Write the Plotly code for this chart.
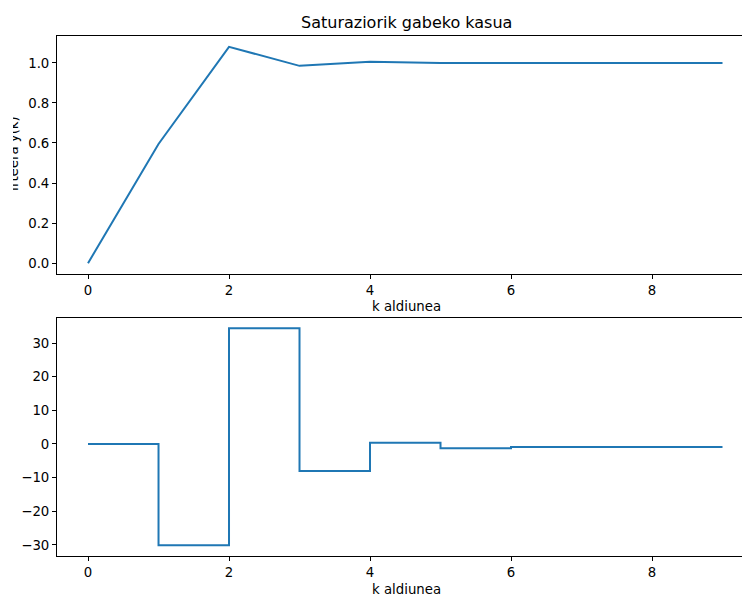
import plotly.graph_objects as go

# ---- data ----
k = list(range(10))
y_out = [0.0, 0.595, 1.08, 0.985, 1.005, 0.999, 0.999, 0.999, 0.999, 0.999]
u_ctrl = [0.0, -30.1, 34.4, -8.0, 0.4, -1.3, -0.9, -0.9, -0.9, -0.9]
x_ticks = [0, 2, 4, 6, 8]
y1_ticks = [0.0, 0.2, 0.4, 0.6, 0.8, 1.0]
y2_ticks = [-30, -20, -10, 0, 10, 20, 30]

title_text = "Saturaziorik gabeko kasua"
xlabel = "k aldiunea"
ylabel1 = "Irteera y(k)"
ylabel2 = "Kontrol ekintza u(k)"

W, H = 742, 594
ML, MR, MT, MB = 57, 0, 36, 38
PW, PH = W - ML - MR, H - MT - MB


def px_x(px):
    return (px - ML) / PW


def px_y(py):
    return (H - MB - py) / PH


FONT = "DejaVu Sans"
BLUE = "#1f77b4"
FS = 13.3

fig = go.Figure()
fig.add_trace(go.Scatter(x=k, y=y_out, mode="lines", line=dict(color=BLUE, width=2),
                         xaxis="x", yaxis="y", showlegend=False))
fig.add_trace(go.Scatter(x=k, y=u_ctrl, mode="lines", line=dict(color=BLUE, width=2, shape="hv"),
                         xaxis="x2", yaxis="y2", showlegend=False))

axis_common = dict(showline=True, linecolor="black", linewidth=1, ticks="outside",
                   ticklen=4, tickwidth=1, tickcolor="black", showgrid=False, zeroline=False,
                   tickfont=dict(family=FONT, size=FS, color="black"))

xr = [-0.44, (W - 88) / 70.5]
fig.update_layout(
    width=W, height=H,
    margin=dict(l=ML, r=MR, t=MT, b=MB),
    paper_bgcolor="white", plot_bgcolor="white",
    xaxis=dict(domain=[0, 1], range=xr, anchor="y", tickvals=x_ticks, mirror=True, **axis_common),
    yaxis=dict(domain=[px_y(274), 1], range=[-0.054, 1.134], anchor="x", tickvals=y1_ticks,
               tickformat=".1f", **axis_common),
    xaxis2=dict(domain=[0, 1], range=xr, anchor="y2", tickvals=x_ticks, mirror=True, **axis_common),
    yaxis2=dict(domain=[0, px_y(317.5)], range=[-33.3, 37.6], anchor="x2", tickvals=y2_ticks,
                **axis_common),
)

ann = []
ann.append(dict(text=title_text, x=px_x(406), y=px_y(22), xref="paper", yref="paper",
                xanchor="center", yanchor="middle", showarrow=False,
                font=dict(family=FONT, size=16, color="black")))
ann.append(dict(text=xlabel, x=px_x(406), y=px_y(307), xref="paper", yref="paper",
                xanchor="center", yanchor="middle", showarrow=False,
                font=dict(family=FONT, size=FS, color="black")))
ann.append(dict(text=xlabel, x=px_x(406), y=px_y(589), xref="paper", yref="paper",
                xanchor="center", yanchor="middle", showarrow=False,
                font=dict(family=FONT, size=FS, color="black")))
ann.append(dict(text=ylabel1, x=px_x(13), y=px_y(154), xref="paper", yref="paper",
                xanchor="center", yanchor="middle", showarrow=False, textangle=-90,
                font=dict(family=FONT, size=FS, color="black")))
ann.append(dict(text=ylabel2, x=px_x(6), y=px_y(436), xref="paper", yref="paper",
                xanchor="center", yanchor="middle", showarrow=False, textangle=-90,
                font=dict(family=FONT, size=FS, color="black")))
# white band hiding the part of the y labels cut off in the reference
ann.append(dict(text=" ", x=px_x(0), y=px_y(0), xref="paper", yref="paper",
                xanchor="left", yanchor="top", showarrow=False, width=12.5, height=H,
                bgcolor="white", borderpad=0, borderwidth=0,
                font=dict(family=FONT, size=10)))
fig.update_layout(annotations=ann)

fig.write_html("out.html", config={"displayModeBar": False},
               post_script="document.body.style.margin='0';document.body.style.overflow='hidden';")
